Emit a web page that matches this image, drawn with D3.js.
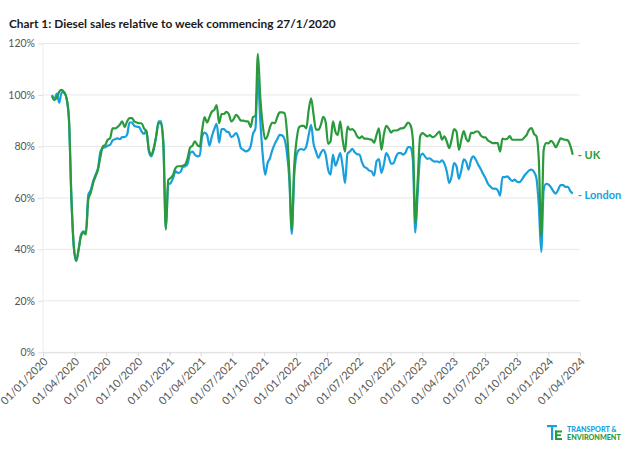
<!DOCTYPE html>
<html><head><meta charset="utf-8">
<script src="https://cdn.jsdelivr.net/npm/d3@7"></script>
<style>
html,body{margin:0;padding:0;background:#fff;}
svg{display:block;font-family:"Lato","Open Sans",sans-serif;}
</style></head>
<body><svg id="c" width="634" height="458"></svg>
<script>
const title = "Chart 1: Diesel sales relative to week commencing 27/1/2020";
const startWeek = "2020-01-27";
const seriesNames = ["UK", "London"];
const ukValues = [99.6,98,99,101.3,102,101,98.7,91,60.6,41.3,35.5,40,45.2,46.5,45.8,59.4,62,65.8,68.4,71,
76,80,80.6,82.6,83.2,87,87,87.5,88.4,89.7,87.5,89.7,91,91,89.7,89.3,89,89,87,85.8,
78.7,76.8,79.4,83.9,89,89,80,47.7,67,67.7,69,71.6,72.3,72.3,72.5,73,75.5,79.5,80.3,82,
80.6,80,86.5,91.4,89.3,91.4,93.5,94.2,96.1,89,92.6,92.6,93.4,92.6,89.7,90.6,92.3,91.4,90,90,
89.7,89.7,87.5,91.4,91.9,116,99,88.4,82.8,84.1,87.5,89.3,89,91.4,93.2,93.2,92.9,85.8,69.7,47.7,
72.3,82.6,87.5,88,88,87,94.2,98.7,92.3,86.5,86.5,88.4,91.5,89.4,81,82,89.7,85.8,84.5,89.7,
82.6,78,87.7,86.5,86.7,85.8,83.9,83.2,83.9,83,83,82.8,82.6,81.5,84.5,87,78.7,84.5,88,87,
85.4,86.2,86.2,86.5,87,87.1,88,89.3,88.3,82.6,50.3,67,83.9,85.2,84.5,83.9,84.4,83.6,83.9,84.9,
85.8,82.6,83.9,81.9,79.4,82.6,86.7,85.8,78.7,82.6,86,83,82,85.3,85.2,85.8,85.8,84.3,83.6,83.5,
82.3,81.8,81.3,81.3,81.3,78,83,82.8,83,84,82.6,82.6,82.6,82.6,82.6,83.5,84.5,86.5,87.1,84.9,
83.9,74.8,45,78.7,81.3,81.2,82.2,81.3,79.7,81.3,83.1,82.8,82.6,82.3,80.3,76.8];
const londonValues = [100,98.5,100.5,97,101,101,98.7,90,60,41,35.5,40,45.8,47,46.6,61.3,63,66.5,69,71.6,
78,79.4,79.7,80.3,80.6,82.3,82.8,83.1,82.8,83.6,83.6,84.5,89.3,89.3,88,87.7,87.5,85.8,84.9,86.2,
78,76.1,78.7,83.9,89.7,89.7,81.3,48,65.2,65.8,67.7,70.3,69.7,70,72,72.3,73.3,77.4,78,76.8,
76.1,76.5,83.9,85.4,84.5,80.3,83.9,86.7,88.8,81.5,86.7,86.7,85.8,85.5,83.6,84.2,85.2,83.2,79.4,78.7,
78.1,78.4,80,84.9,87,107,90,76.8,69,73.5,75.5,78.7,81,82.8,84.5,84.3,82.8,77.4,67,46,
68.4,76.8,78.7,79,78.7,80,84.5,88.4,81,78,75.5,77.5,78.7,76.8,71,69,76.8,72.5,74.8,77.4,
72.3,65.8,77.2,78,79.1,77.7,77,76.8,73.8,72,71.5,70.6,70.3,68.6,74.2,75.1,69.7,72.9,77.4,75.9,
73.3,73.5,75.9,77.4,77.4,76.8,77.7,79.7,79.7,74.8,46.5,62,76.1,77.2,76.1,75.2,75.4,74.6,74.1,74.2,
73.8,74.6,73.3,70.3,65.8,68.4,73.5,72.3,67.4,70.7,75,74,71,74.8,76.1,74.8,72.9,71.2,69.3,67.6,
65.5,64.4,63.6,63.6,63,60.9,68.1,68.1,68.4,67.4,66.6,67.1,66.3,66.1,67.1,68.6,69.7,70.7,71,70.1,
67.7,56.8,39,63.2,65.5,65.2,64.1,62.6,61.7,63.2,65,65,64.3,64.3,62.6,61.7];
const yTicks = [0, 20, 40, 60, 80, 100, 120];
const xTickDates = ["2020-01-01","2020-04-01","2020-07-01","2020-10-01","2021-01-01","2021-04-01",
"2021-07-01","2021-10-01","2022-01-01","2022-04-01","2022-07-01","2022-10-01","2023-01-01",
"2023-04-01","2023-07-01","2023-10-01","2024-01-01","2024-04-01"];

const green = "#2a9a3c", blue = "#1a9fdd";
const parse = d3.utcParse("%Y-%m-%d");
const fmt = d3.utcFormat("%d/%m/%Y");
const t0 = parse(startWeek);
const dates = ukValues.map((_, i) => d3.utcDay.offset(t0, i * 7));

const svg = d3.select("#c");
const x = d3.scaleUtc().domain([parse("2020-01-01"), parse("2024-04-01")]).range([43, 580]);
const y = d3.scaleLinear().domain([0, 120]).range([352.3, 43.5]);

// title
svg.append("text").attr("x", 9).attr("y", 27.5).attr("font-size", 11.9).attr("font-weight", 700)
  .attr("fill", "#1a1a1a").text(title);

// grid
svg.append("g").selectAll("line").data(yTicks).join("line")
  .attr("x1", 43).attr("x2", 580).attr("y1", d => y(d)).attr("y2", d => y(d))
  .attr("stroke", "#e8e8e8").attr("stroke-width", 1);
svg.append("line").attr("x1", 43).attr("x2", 43).attr("y1", y(120)).attr("y2", y(0))
  .attr("stroke", "#ececec");

// y axis
const ya = svg.append("g").attr("transform", "translate(43,0)")
  .call(d3.axisLeft(y).tickValues(yTicks).tickFormat(d => d + "%").tickSize(5).tickPadding(3));
ya.select(".domain").remove();
ya.selectAll(".tick line").attr("stroke", "#e0e0e0");
ya.selectAll(".tick text").attr("font-size", 10.5).attr("fill", "#555").attr("font-family", "Lato,sans-serif");

// x axis
const xa = svg.append("g").attr("transform", `translate(0,${y(0)})`)
  .call(d3.axisBottom(x).tickValues(xTickDates.map(parse)).tickFormat(fmt).tickSize(4).tickPadding(2));
xa.select(".domain").attr("stroke", "#e0e0e0");
xa.selectAll(".tick line").attr("stroke", "#d8d8d8");
xa.selectAll(".tick text").attr("font-size", 11).attr("fill", "#555").attr("font-family", "Lato,sans-serif")
  .attr("text-anchor", "end").attr("dy", null).attr("y", 0)
  .attr("transform", "translate(5,10) rotate(-45)");

// lines
const line = d3.line().x((d, i) => x(dates[i])).y(d => y(d)).curve(d3.curveMonotoneX);
svg.append("path").datum(londonValues).attr("d", line).attr("fill", "none")
  .attr("stroke", blue).attr("stroke-width", 2.2).attr("stroke-linejoin", "round");
svg.append("path").datum(ukValues).attr("d", line).attr("fill", "none")
  .attr("stroke", green).attr("stroke-width", 2.2).attr("stroke-linejoin", "round");

// end labels
const lastX = x(dates[dates.length - 1]);
svg.append("text").attr("x", lastX + 5).attr("y", y(ukValues[ukValues.length - 1]) + 4)
  .attr("font-size", 11).attr("font-weight", 700).attr("fill", green).text("- " + seriesNames[0]);
svg.append("text").attr("x", lastX + 5).attr("y", y(londonValues[londonValues.length - 1]) + 5)
  .attr("font-size", 11).attr("font-weight", 700).attr("fill", blue).text("- " + seriesNames[1]);

// logo
const lg = svg.append("g").attr("transform", "translate(547,425)");
lg.append("rect").attr("x", 0).attr("y", 0).attr("width", 10).attr("height", 2.2).attr("fill", blue);
lg.append("rect").attr("x", 4).attr("y", 0).attr("width", 2.2).attr("height", 15).attr("fill", blue);
lg.append("rect").attr("x", 8).attr("y", 5.5).attr("width", 2.2).attr("height", 9.5).attr("fill", green);
lg.append("rect").attr("x", 8).attr("y", 5.5).attr("width", 7).attr("height", 2).attr("fill", green);
lg.append("rect").attr("x", 8).attr("y", 9.3).attr("width", 6).attr("height", 1.8).attr("fill", green);
lg.append("rect").attr("x", 8).attr("y", 13).attr("width", 7).attr("height", 2).attr("fill", green);
lg.append("text").attr("x", 20).attr("y", 7).attr("font-size", 7.2).attr("font-weight", 900)
  .attr("fill", blue).text("TRANSPORT &");
lg.append("text").attr("x", 20).attr("y", 15).attr("font-size", 7.2).attr("font-weight", 900)
  .attr("fill", green).text("ENVIRONMENT");
</script></body></html>
